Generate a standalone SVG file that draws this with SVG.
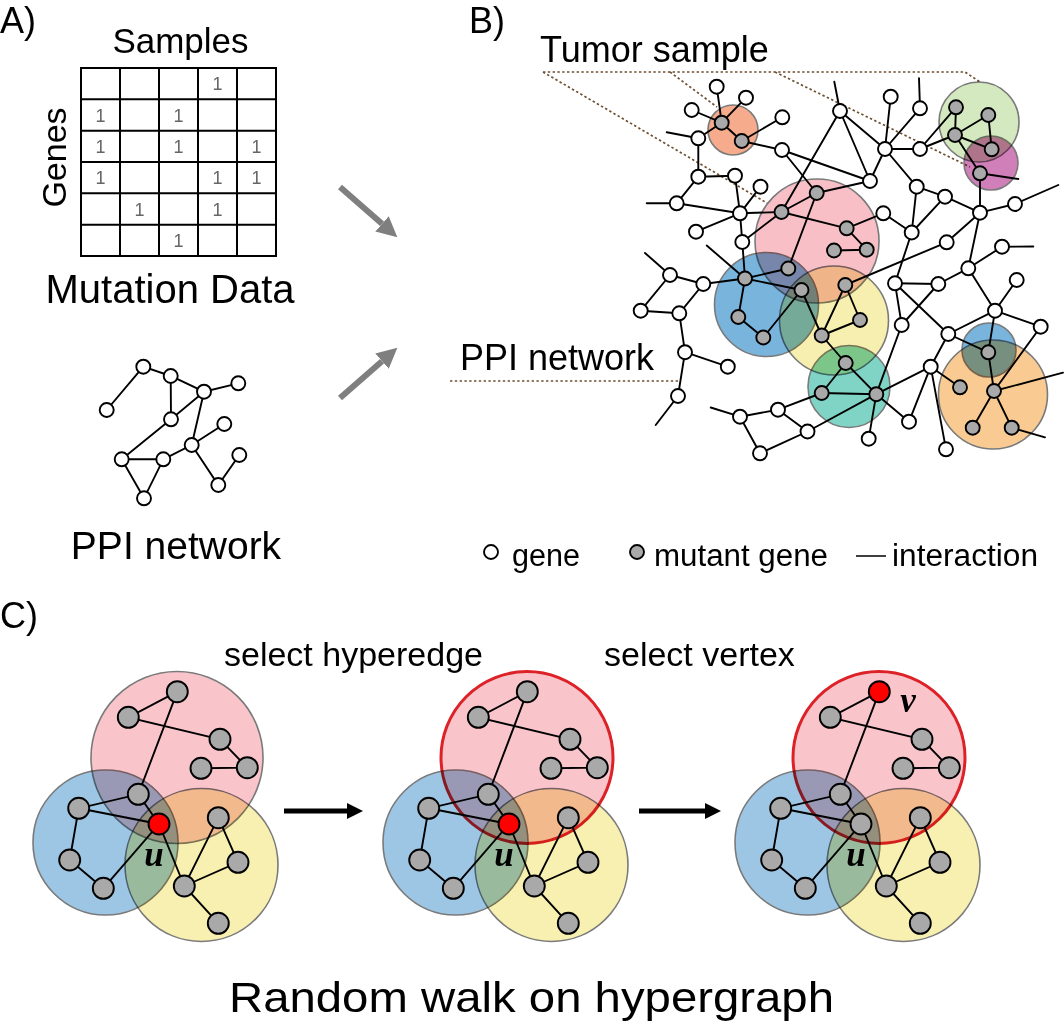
<svg xmlns="http://www.w3.org/2000/svg" xmlns:xlink="http://www.w3.org/1999/xlink" width="1064" height="1028" viewBox="0 0 1064 1028">
<style>
.t{font-family:'Liberation Sans',Arial,Helvetica,sans-serif;fill:#000}
.e{stroke:#000;stroke-width:1.9;fill:none;stroke-linecap:round}
.w{fill:#fff;stroke:#000;stroke-width:1.9}
.m{fill:#a9a9a9;stroke:#000;stroke-width:1.9}
.r{fill:#ff0000;stroke:#000;stroke-width:1.9}
.h{stroke:#7a7a7a;stroke-width:1.6;mix-blend-mode:multiply}
.sel{stroke:#dc2127;stroke-width:3}
.dot{stroke:#6e4f30;stroke-width:1.7;stroke-dasharray:2.4 2.4;fill:none}
.one{font-family:'Liberation Sans',Arial,sans-serif;font-size:18px;fill:#666;text-anchor:middle}
.math{font-family:'Liberation Serif','DejaVu Serif',serif;font-style:italic;font-weight:bold;font-size:35px;text-anchor:middle}
.grid{stroke:#000;stroke-width:2;fill:none}
.ga{stroke:#7f7f7f;stroke-width:6}
.ba{stroke:#000;stroke-width:5}
</style>
<defs>
<marker id="hg" viewBox="0 0 10 10" refX="0" refY="5" markerWidth="3.4" markerHeight="3.4" orient="auto"><path d="M0,0 L10,5 L0,10 z" fill="#7f7f7f"/></marker>
<marker id="hb" viewBox="0 0 10 10" refX="0" refY="5" markerWidth="4.4" markerHeight="3.2" orient="auto"><path d="M0,0 L10,5 L0,10 z" fill="#000"/></marker>
</defs>
<rect width="1064" height="1028" fill="#fff"/>

<!-- Panel labels -->
<text class="t" x="0" y="33" font-size="36">A)</text>
<text class="t" x="469" y="33" font-size="36">B)</text>
<text class="t" x="0" y="628" font-size="36">C)</text>

<!-- Panel A: matrix -->
<g id="matrix">
<text class="t" x="180.5" y="53" font-size="35" text-anchor="middle">Samples</text>
<text class="t" x="0" y="0" font-size="34" text-anchor="middle" transform="translate(66,157.5) rotate(-90)">Genes</text>
<rect class="grid" x="81" y="68" width="195" height="188"/>
<path class="grid" d="M120,68V256M159,68V256M198,68V256M237,68V256M81,99.3H276M81,130.7H276M81,162H276M81,193.3H276M81,224.7H276"/>
<text class="one" x="217.5" y="90">1</text>
<text class="one" x="100.5" y="121.5">1</text>
<text class="one" x="178.5" y="121.5">1</text>
<text class="one" x="100.5" y="152.8">1</text>
<text class="one" x="178.5" y="152.8">1</text>
<text class="one" x="256.5" y="152.8">1</text>
<text class="one" x="100.5" y="184.2">1</text>
<text class="one" x="217.5" y="184.2">1</text>
<text class="one" x="256.5" y="184.2">1</text>
<text class="one" x="139.5" y="215.5">1</text>
<text class="one" x="217.5" y="215.5">1</text>
<text class="one" x="178.5" y="246.8">1</text>
<text class="t" x="170" y="303" font-size="40" text-anchor="middle">Mutation Data</text>
</g>

<!-- Panel A arrows -->
<g id="arrowsA">
<line class="ga" x1="340" y1="187" x2="382" y2="223.8" marker-end="url(#hg)"/>
<line class="ga" x1="340" y1="398" x2="382" y2="361.2" marker-end="url(#hg)"/>
</g>

<!-- Panel A: PPI network -->
<g id="ppiA-edges">
<path class="e" d="M106.7,410L143.3,366.7L170.7,376L204,391.7L238.3,383.3M170.7,376L171,419.3L204,391.7L191.7,445L224.3,424M171,419.3L121.7,459.3L163.3,459.3L144,498.3L121.7,459.3M163.3,459.3L191.7,445L218.3,485L239.3,455"/>
</g>
<g id="ppiA-nodes">
<g id="a1"><circle class="w" cx="143.3" cy="366.7" r="7"/></g>
<g id="a2"><circle class="w" cx="170.7" cy="376" r="7"/></g>
<g id="a3"><circle class="w" cx="106.7" cy="410" r="7"/></g>
<g id="a4"><circle class="w" cx="204" cy="391.7" r="7"/></g>
<g id="a5"><circle class="w" cx="238.3" cy="383.3" r="7"/></g>
<g id="a6"><circle class="w" cx="171" cy="419.3" r="7"/></g>
<g id="a7"><circle class="w" cx="224.3" cy="424" r="7"/></g>
<g id="a8"><circle class="w" cx="191.7" cy="445" r="7"/></g>
<g id="a9"><circle class="w" cx="239.3" cy="455" r="7"/></g>
<g id="a10"><circle class="w" cx="121.7" cy="459.3" r="7"/></g>
<g id="a11"><circle class="w" cx="163.3" cy="459.3" r="7"/></g>
<g id="a12"><circle class="w" cx="218.3" cy="485" r="7"/></g>
<g id="a13"><circle class="w" cx="144" cy="498.3" r="7"/></g>
</g>
<text class="t" x="176" y="559" font-size="39" text-anchor="middle">PPI network</text>

<!-- Panel B -->
<text class="t" x="540" y="62" font-size="36">Tumor sample</text>
<text class="t" x="460" y="370" font-size="36">PPI network</text>
<g id="dotted">
<path class="dot" d="M543,72H965L980,82M543,72L767,203M670,72L717,107M775,72L970,167M450,381H678"/>
</g>
<g id="hyperedges-B">
<circle id="he-orange-s" class="h" cx="733" cy="130" r="25" fill="#f6ab8c"/>
<circle id="he-green" class="h" cx="979" cy="122" r="40" fill="#d5e9c0"/>
<circle id="he-magenta" class="h" cx="991" cy="163" r="27" fill="#d07fb8"/>
<circle id="he-pink" class="h" cx="817" cy="241" r="62" fill="#f8c0c6"/>
<circle id="he-blue" class="h" cx="766.5" cy="304.5" r="52" fill="#79b4dd"/>
<circle id="he-yellow" class="h" cx="834" cy="320.5" r="54.5" fill="#f7efb0"/>
<circle id="he-teal" class="h" cx="849" cy="386.5" r="41" fill="#80d4c6"/>
<circle id="he-orange-b" class="h" cx="993" cy="394.5" r="54.5" fill="#f9cb92"/>
<circle id="he-blue-s" class="h" cx="989" cy="350" r="27" fill="#79b4dd"/>
</g>
<g id="connectors-B" class="e">
<line x1="716.7" y1="86.7" x2="721.7" y2="122.7"/>
<line x1="746" y1="97.7" x2="721.7" y2="122.7"/>
<line x1="691.7" y1="110" x2="721.7" y2="122.7"/>
<line x1="698.3" y1="138.3" x2="721.7" y2="122.7"/>
<line x1="721.7" y1="122.7" x2="741.7" y2="141"/>
<line x1="741.7" y1="141" x2="782.3" y2="117.3"/>
<line x1="741.7" y1="141" x2="782" y2="150"/>
<line x1="698.3" y1="138.3" x2="698.3" y2="176.7"/>
<line x1="698.3" y1="176.7" x2="735" y2="175.7"/>
<line x1="698.3" y1="176.7" x2="676.7" y2="203.3"/>
<line x1="676.7" y1="203.3" x2="740" y2="213.3"/>
<line x1="735" y1="175.7" x2="740" y2="213.3"/>
<line x1="740" y1="213.3" x2="760.5" y2="186.7"/>
<line x1="740" y1="213.3" x2="696" y2="231.7"/>
<line x1="740" y1="213.3" x2="742.3" y2="242"/>
<line x1="740" y1="213.3" x2="781.5" y2="212"/>
<line x1="742.3" y1="242" x2="781.5" y2="212"/>
<line x1="742.3" y1="242" x2="745" y2="278.5"/>
<line x1="781.5" y1="212" x2="816.7" y2="193"/>
<line x1="781.5" y1="212" x2="840" y2="111"/>
<line x1="781.5" y1="212" x2="846.7" y2="228.3"/>
<line x1="816.7" y1="193" x2="782" y2="150"/>
<line x1="816.7" y1="193" x2="870" y2="181"/>
<line x1="816.7" y1="193" x2="788.3" y2="268.5"/>
<line x1="782" y1="150" x2="870" y2="181"/>
<line x1="840" y1="111" x2="870" y2="181"/>
<line x1="840" y1="111" x2="885" y2="149"/>
<line x1="885" y1="149" x2="890.7" y2="96.7"/>
<line x1="885" y1="149" x2="920" y2="108.3"/>
<line x1="885" y1="149" x2="920" y2="149"/>
<line x1="885" y1="149" x2="870" y2="181"/>
<line x1="885" y1="149" x2="916.7" y2="186.7"/>
<line x1="920" y1="149" x2="956" y2="107.3"/>
<line x1="920" y1="149" x2="955" y2="135"/>
<line x1="956" y1="107.3" x2="955" y2="135"/>
<line x1="955" y1="135" x2="988.3" y2="115"/>
<line x1="988.3" y1="115" x2="991.7" y2="149.3"/>
<line x1="955" y1="135" x2="991.7" y2="149.3"/>
<line x1="955" y1="135" x2="980" y2="173.3"/>
<line x1="980" y1="173.3" x2="980" y2="212.7"/>
<line x1="916.7" y1="186.7" x2="945" y2="196.7"/>
<line x1="945" y1="196.7" x2="980" y2="212.7"/>
<line x1="980" y1="212.7" x2="1015" y2="204"/>
<line x1="980" y1="212.7" x2="968.3" y2="268.3"/>
<line x1="980" y1="212.7" x2="946.7" y2="242.3"/>
<line x1="1002" y1="246.7" x2="968.3" y2="268.3"/>
<line x1="916.7" y1="186.7" x2="911.7" y2="232.5"/>
<line x1="945" y1="196.7" x2="911.7" y2="232.5"/>
<line x1="846.7" y1="228.3" x2="883.3" y2="213.3"/>
<line x1="883.3" y1="213.3" x2="911.7" y2="232.5"/>
<line x1="846.7" y1="228.3" x2="866.7" y2="249.7"/>
<line x1="834" y1="250.5" x2="866.7" y2="249.7"/>
<line x1="911.7" y1="232.5" x2="895" y2="283.3"/>
<line x1="946.7" y1="242.3" x2="845.3" y2="285"/>
<line x1="895" y1="283.3" x2="938.3" y2="284"/>
<line x1="895" y1="283.3" x2="948.3" y2="334"/>
<line x1="895" y1="283.3" x2="901.7" y2="325"/>
<line x1="901.7" y1="325" x2="938.3" y2="284"/>
<line x1="938.3" y1="284" x2="968.3" y2="268.3"/>
<line x1="968.3" y1="268.3" x2="995" y2="310.7"/>
<line x1="995" y1="310.7" x2="1016.7" y2="280"/>
<line x1="995" y1="310.7" x2="1040.7" y2="326.7"/>
<line x1="995" y1="310.7" x2="948.3" y2="334"/>
<line x1="995" y1="310.7" x2="988.3" y2="352.3"/>
<line x1="948.3" y1="334" x2="988.3" y2="352.3"/>
<line x1="948.3" y1="334" x2="930.7" y2="366.7"/>
<line x1="930.7" y1="366.7" x2="909" y2="421.7"/>
<line x1="930.7" y1="366.7" x2="946" y2="449.3"/>
<line x1="930.7" y1="366.7" x2="960" y2="387.3"/>
<line x1="988.3" y1="352.3" x2="994" y2="391"/>
<line x1="1040.7" y1="326.7" x2="994" y2="391"/>
<line x1="994" y1="391" x2="972.7" y2="427.7"/>
<line x1="994" y1="391" x2="1011.7" y2="427.7"/>
<line x1="876.3" y1="394.2" x2="901.7" y2="325"/>
<line x1="876.3" y1="394.2" x2="930.7" y2="366.7"/>
<line x1="876.3" y1="394.2" x2="909" y2="421.7"/>
<line x1="876.3" y1="394.2" x2="868.7" y2="438.7"/>
<line x1="876.3" y1="394.2" x2="845.7" y2="363"/>
<line x1="876.3" y1="394.2" x2="821.7" y2="393"/>
<line x1="821.7" y1="393" x2="845.7" y2="363"/>
<line x1="845.7" y1="363" x2="821.7" y2="335.5"/>
<line x1="821.7" y1="393" x2="778" y2="409.7"/>
<line x1="778" y1="409.7" x2="740" y2="416.7"/>
<line x1="778" y1="409.7" x2="807.5" y2="431.5"/>
<line x1="807.5" y1="431.5" x2="760" y2="453.3"/>
<line x1="760" y1="453.3" x2="740" y2="416.7"/>
<line x1="807.5" y1="431.5" x2="876.3" y2="394.2"/>
<line x1="821.7" y1="335.5" x2="860" y2="320"/>
<line x1="821.7" y1="335.5" x2="801.5" y2="290"/>
<line x1="845.3" y1="285" x2="821.7" y2="335.5"/>
<line x1="845.3" y1="285" x2="860" y2="320"/>
<line x1="801.5" y1="290" x2="763.3" y2="337.5"/>
<line x1="763.3" y1="337.5" x2="738.3" y2="317"/>
<line x1="738.3" y1="317" x2="745" y2="278.5"/>
<line x1="745" y1="278.5" x2="788.3" y2="268.5"/>
<line x1="745" y1="278.5" x2="801.5" y2="290"/>
<line x1="745" y1="278.5" x2="703.3" y2="284"/>
<line x1="703.3" y1="284" x2="670" y2="275"/>
<line x1="703.3" y1="284" x2="679.3" y2="313.3"/>
<line x1="670" y1="275" x2="640.7" y2="310.7"/>
<line x1="640.7" y1="310.7" x2="679.3" y2="313.3"/>
<line x1="679.3" y1="313.3" x2="685" y2="352.2"/>
<line x1="685" y1="352.2" x2="727.8" y2="366.7"/>
<line x1="685" y1="352.2" x2="678" y2="396"/>
<line x1="698.3" y1="138.3" x2="666.7" y2="132.3"/>
<line x1="676.7" y1="203.3" x2="646.7" y2="203.3"/>
<line x1="670" y1="275" x2="645" y2="253"/>
<line x1="745" y1="278.5" x2="706.7" y2="245.5"/>
<line x1="840" y1="111" x2="834.3" y2="81.7"/>
<line x1="920" y1="108.3" x2="919" y2="78.3"/>
<line x1="1015" y1="204" x2="1058.3" y2="185"/>
<line x1="1002" y1="246.7" x2="1033.3" y2="246.5"/>
<line x1="980" y1="173.3" x2="1018.3" y2="179"/>
<line x1="678" y1="396" x2="655.7" y2="425"/>
<line x1="740" y1="416.7" x2="710.7" y2="407.5"/>
<line x1="994" y1="391" x2="1063" y2="372.7"/>
<line x1="1011.7" y1="427.7" x2="1045" y2="437.3"/>
</g>
<g id="nodes-B">
<g id="w1"><circle class="w" cx="716.7" cy="86.7" r="7"/></g>
<g id="w2"><circle class="w" cx="746" cy="97.7" r="7"/></g>
<g id="w3"><circle class="w" cx="691.7" cy="110" r="7"/></g>
<g id="w4"><circle class="w" cx="698.3" cy="138.3" r="7"/></g>
<g id="w5"><circle class="w" cx="698.3" cy="176.7" r="7"/></g>
<g id="w6"><circle class="w" cx="735" cy="175.7" r="7"/></g>
<g id="w7"><circle class="w" cx="676.7" cy="203.3" r="7"/></g>
<g id="w8"><circle class="w" cx="740" cy="213.3" r="7"/></g>
<g id="w9"><circle class="w" cx="696" cy="231.7" r="7"/></g>
<g id="w10"><circle class="w" cx="742.3" cy="242" r="7"/></g>
<g id="w11"><circle class="w" cx="760.5" cy="186.7" r="7"/></g>
<g id="w12"><circle class="w" cx="782" cy="150" r="7"/></g>
<g id="w13"><circle class="w" cx="870" cy="181" r="7"/></g>
<g id="w14"><circle class="w" cx="883.3" cy="213.3" r="7"/></g>
<g id="w15"><circle class="w" cx="670" cy="275" r="7"/></g>
<g id="w16"><circle class="w" cx="703.3" cy="284" r="7"/></g>
<g id="w17"><circle class="w" cx="640.7" cy="310.7" r="7"/></g>
<g id="w18"><circle class="w" cx="679.3" cy="313.3" r="7"/></g>
<g id="w19"><circle class="w" cx="782.3" cy="117.3" r="7"/></g>
<g id="w20"><circle class="w" cx="840" cy="111" r="7"/></g>
<g id="w21"><circle class="w" cx="890.7" cy="96.7" r="7"/></g>
<g id="w22"><circle class="w" cx="920" cy="108.3" r="7"/></g>
<g id="w23"><circle class="w" cx="885" cy="149" r="7"/></g>
<g id="w24"><circle class="w" cx="920" cy="149" r="7"/></g>
<g id="w25"><circle class="w" cx="916.7" cy="186.7" r="7"/></g>
<g id="w26"><circle class="w" cx="945" cy="196.7" r="7"/></g>
<g id="w27"><circle class="w" cx="980" cy="212.7" r="7"/></g>
<g id="w28"><circle class="w" cx="1015" cy="204" r="7"/></g>
<g id="w29"><circle class="w" cx="946.7" cy="242.3" r="7"/></g>
<g id="w30"><circle class="w" cx="1002" cy="246.7" r="7"/></g>
<g id="w31"><circle class="w" cx="968.3" cy="268.3" r="7"/></g>
<g id="w32"><circle class="w" cx="911.7" cy="232.5" r="7"/></g>
<g id="w33"><circle class="w" cx="895" cy="283.3" r="7"/></g>
<g id="w34"><circle class="w" cx="938.3" cy="284" r="7"/></g>
<g id="w35"><circle class="w" cx="1016.7" cy="280" r="7"/></g>
<g id="w36"><circle class="w" cx="995" cy="310.7" r="7"/></g>
<g id="w37"><circle class="w" cx="1040.7" cy="326.7" r="7"/></g>
<g id="w38"><circle class="w" cx="901.7" cy="325" r="7"/></g>
<g id="w39"><circle class="w" cx="948.3" cy="334" r="7"/></g>
<g id="w40"><circle class="w" cx="930.7" cy="366.7" r="7"/></g>
<g id="w41"><circle class="w" cx="778" cy="409.7" r="7"/></g>
<g id="w42"><circle class="w" cx="807.5" cy="431.5" r="7"/></g>
<g id="w43"><circle class="w" cx="760" cy="453.3" r="7"/></g>
<g id="w44"><circle class="w" cx="909" cy="421.7" r="7"/></g>
<g id="w45"><circle class="w" cx="868.7" cy="438.7" r="7"/></g>
<g id="w46"><circle class="w" cx="946" cy="449.3" r="7"/></g>
<g id="w47"><circle class="w" cx="740" cy="416.7" r="7"/></g>
<g id="w48"><circle class="w" cx="685" cy="352.2" r="7"/></g>
<g id="w49"><circle class="w" cx="727.8" cy="366.7" r="7"/></g>
<g id="w50"><circle class="w" cx="678" cy="396" r="7"/></g>
<g id="g1"><circle class="m" cx="721.7" cy="122.7" r="7" fill="#b9aaa6"/></g>
<g id="g2"><circle class="m" cx="741.7" cy="141" r="7" fill="#b9aaa6"/></g>
<g id="g3"><circle class="m" cx="781.5" cy="212" r="7"/></g>
<g id="g4"><circle class="m" cx="816.7" cy="193" r="7"/></g>
<g id="g5"><circle class="m" cx="846.7" cy="228.3" r="7"/></g>
<g id="g6"><circle class="m" cx="834" cy="250.5" r="7"/></g>
<g id="g7"><circle class="m" cx="866.7" cy="249.7" r="7"/></g>
<g id="g8"><circle class="m" cx="745" cy="278.5" r="7"/></g>
<g id="g9"><circle class="m" cx="788.3" cy="268.5" r="7"/></g>
<g id="g10"><circle class="m" cx="801.5" cy="290" r="7"/></g>
<g id="g11"><circle class="m" cx="845.3" cy="285" r="7"/></g>
<g id="g12"><circle class="m" cx="738.3" cy="317" r="7"/></g>
<g id="g13"><circle class="m" cx="763.3" cy="337.5" r="7" fill="#aeb4bc"/></g>
<g id="g14"><circle class="m" cx="821.7" cy="335.5" r="7"/></g>
<g id="g15"><circle class="m" cx="860" cy="320" r="7"/></g>
<g id="g16"><circle class="m" cx="956" cy="107.3" r="7" fill="#9e9e9e"/></g>
<g id="g17"><circle class="m" cx="988.3" cy="115" r="7" fill="#b4b4b4"/></g>
<g id="g18"><circle class="m" cx="955" cy="135" r="7"/></g>
<g id="g19"><circle class="m" cx="991.7" cy="149.3" r="7"/></g>
<g id="g20"><circle class="m" cx="980" cy="173.3" r="7" fill="#b3acb4"/></g>
<g id="g21"><circle class="m" cx="845.7" cy="363" r="7"/></g>
<g id="g22"><circle class="m" cx="821.7" cy="393" r="7"/></g>
<g id="g23"><circle class="m" cx="876.3" cy="394.2" r="7"/></g>
<g id="g24"><circle class="m" cx="988.3" cy="352.3" r="7"/></g>
<g id="g25"><circle class="m" cx="994" cy="391" r="7"/></g>
<g id="g26"><circle class="m" cx="960" cy="387.3" r="7" fill="#bdb3a8"/></g>
<g id="g27"><circle class="m" cx="972.7" cy="427.7" r="7" fill="#bdb3a8"/></g>
<g id="g28"><circle class="m" cx="1011.7" cy="427.7" r="7" fill="#8c8880"/></g>
</g>

<!-- Legend -->
<g id="legend">
<g id="lg-gene"><circle class="w" cx="491" cy="552" r="7" stroke-width="1.5"/><text class="t" x="512" y="566" font-size="31" textLength="68" lengthAdjust="spacingAndGlyphs">gene</text></g>
<g id="lg-mutant"><circle class="m" cx="637" cy="552" r="7" stroke-width="1.5"/><text class="t" x="654" y="566" font-size="31" textLength="174" lengthAdjust="spacingAndGlyphs">mutant gene</text></g>
<g id="lg-inter"><line x1="856" y1="556" x2="886" y2="556" stroke="#000" stroke-width="1.5"/><text class="t" x="892" y="566" font-size="31" textLength="146" lengthAdjust="spacingAndGlyphs">interaction</text></g>
</g>

<!-- Panel C -->
<text class="t" x="224" y="666" font-size="34">select hyperedge</text>
<text class="t" x="604" y="666" font-size="34">select vertex</text>
<g id="arrowsC">
<line class="ba" x1="284" y1="811" x2="347" y2="811" marker-end="url(#hb)"/>
<line class="ba" x1="639" y1="811" x2="705" y2="811" marker-end="url(#hb)"/>
</g>

<!-- cluster 1 -->
<g id="cluster1">
<circle class="h" cx="105.5" cy="842.5" r="72.5" fill="#9dc6e4"/>
<circle class="h" cx="177" cy="757.5" r="86" fill="#f9c5cb"/>
<circle class="h" cx="201.5" cy="865" r="76.5" fill="#f8f0b0"/>
<g id="c1-connectors" class="e">
<path d="M177.3,691.7L128.3,717.3L220,739.3L247.3,767.7L201,768.3M177.3,691.7L138.3,794.3L78.7,808.3L159,824L138.3,794.3M78.7,808.3L69.7,860L103.3,888.3L159,824L184.3,886L218.3,817.7L238,862.3L184.3,886L218.3,923.3"/>
</g>
<g id="c1-n1"><circle class="m" cx="177.3" cy="691.7" r="10.5"/></g>
<g id="c1-n2"><circle class="m" cx="128.3" cy="717.3" r="10.5"/></g>
<g id="c1-n3"><circle class="m" cx="220" cy="739.3" r="10.5"/></g>
<g id="c1-n4"><circle class="m" cx="247.3" cy="767.7" r="10.5"/></g>
<g id="c1-n5"><circle class="m" cx="201" cy="768.3" r="10.5"/></g>
<g id="c1-n6"><circle class="m" cx="138.3" cy="794.3" r="10.5"/></g>
<g id="c1-n7"><circle class="m" cx="78.7" cy="808.3" r="10.5"/></g>
<g id="c1-n8"><circle class="m" cx="69.7" cy="860" r="10.5"/></g>
<g id="c1-n9"><circle class="m" cx="103.3" cy="888.3" r="10.5"/></g>
<g id="c1-n10"><circle class="m" cx="218.3" cy="817.7" r="10.5"/></g>
<g id="c1-n11"><circle class="m" cx="238" cy="862.3" r="10.5"/></g>
<g id="c1-n12"><circle class="m" cx="184.3" cy="886" r="10.5"/></g>
<g id="c1-n13"><circle class="m" cx="218.3" cy="923.3" r="10.5"/></g>
<g id="c1-u"><circle class="r" cx="159" cy="824" r="10.5"/><text class="math" x="154" y="866">u</text></g>
</g>

<!-- cluster 2 -->
<g id="cluster2" transform="translate(350,0)">
<circle class="h" cx="105.5" cy="842.5" r="72.5" fill="#9dc6e4"/>
<circle class="h sel" cx="177" cy="757.5" r="86" fill="#f9c5cb"/>
<circle class="h" cx="201.5" cy="865" r="76.5" fill="#f8f0b0"/>
<g id="c2-connectors" class="e">
<path d="M177.3,691.7L128.3,717.3L220,739.3L247.3,767.7L201,768.3M177.3,691.7L138.3,794.3L78.7,808.3L159,824L138.3,794.3M78.7,808.3L69.7,860L103.3,888.3L159,824L184.3,886L218.3,817.7L238,862.3L184.3,886L218.3,923.3"/>
</g>
<g id="c2-n1"><circle class="m" cx="177.3" cy="691.7" r="10.5"/></g>
<g id="c2-n2"><circle class="m" cx="128.3" cy="717.3" r="10.5"/></g>
<g id="c2-n3"><circle class="m" cx="220" cy="739.3" r="10.5"/></g>
<g id="c2-n4"><circle class="m" cx="247.3" cy="767.7" r="10.5"/></g>
<g id="c2-n5"><circle class="m" cx="201" cy="768.3" r="10.5"/></g>
<g id="c2-n6"><circle class="m" cx="138.3" cy="794.3" r="10.5"/></g>
<g id="c2-n7"><circle class="m" cx="78.7" cy="808.3" r="10.5"/></g>
<g id="c2-n8"><circle class="m" cx="69.7" cy="860" r="10.5"/></g>
<g id="c2-n9"><circle class="m" cx="103.3" cy="888.3" r="10.5"/></g>
<g id="c2-n10"><circle class="m" cx="218.3" cy="817.7" r="10.5"/></g>
<g id="c2-n11"><circle class="m" cx="238" cy="862.3" r="10.5"/></g>
<g id="c2-n12"><circle class="m" cx="184.3" cy="886" r="10.5"/></g>
<g id="c2-n13"><circle class="m" cx="218.3" cy="923.3" r="10.5"/></g>
<g id="c2-u"><circle class="r" cx="159" cy="824" r="10.5"/><text class="math" x="154" y="866">u</text></g>
</g>

<!-- cluster 3 -->
<g id="cluster3" transform="translate(702,0)">
<circle class="h" cx="105.5" cy="842.5" r="72.5" fill="#9dc6e4"/>
<circle class="h sel" cx="177" cy="757.5" r="86" fill="#f9c5cb"/>
<circle class="h" cx="201.5" cy="865" r="76.5" fill="#f8f0b0"/>
<g id="c3-connectors" class="e">
<path d="M177.3,691.7L128.3,717.3L220,739.3L247.3,767.7L201,768.3M177.3,691.7L138.3,794.3L78.7,808.3L159,824L138.3,794.3M78.7,808.3L69.7,860L103.3,888.3L159,824L184.3,886L218.3,817.7L238,862.3L184.3,886L218.3,923.3"/>
</g>
<g id="c3-v"><circle class="r" cx="177.3" cy="691.7" r="10.5"/><text class="math" x="206" y="712">v</text></g>
<g id="c3-n2"><circle class="m" cx="128.3" cy="717.3" r="10.5"/></g>
<g id="c3-n3"><circle class="m" cx="220" cy="739.3" r="10.5"/></g>
<g id="c3-n4"><circle class="m" cx="247.3" cy="767.7" r="10.5"/></g>
<g id="c3-n5"><circle class="m" cx="201" cy="768.3" r="10.5"/></g>
<g id="c3-n6"><circle class="m" cx="138.3" cy="794.3" r="10.5"/></g>
<g id="c3-n7"><circle class="m" cx="78.7" cy="808.3" r="10.5"/></g>
<g id="c3-n8"><circle class="m" cx="69.7" cy="860" r="10.5"/></g>
<g id="c3-n9"><circle class="m" cx="103.3" cy="888.3" r="10.5"/></g>
<g id="c3-n10"><circle class="m" cx="218.3" cy="817.7" r="10.5"/></g>
<g id="c3-n11"><circle class="m" cx="238" cy="862.3" r="10.5"/></g>
<g id="c3-n12"><circle class="m" cx="184.3" cy="886" r="10.5"/></g>
<g id="c3-n13"><circle class="m" cx="218.3" cy="923.3" r="10.5"/></g>
<g id="c3-u"><circle class="m" cx="159" cy="824" r="10.5"/><text class="math" x="154" y="866">u</text></g>
</g>

<text class="t" x="229" y="1012" font-size="43" textLength="605" lengthAdjust="spacingAndGlyphs">Random walk on hypergraph</text>
</svg>
